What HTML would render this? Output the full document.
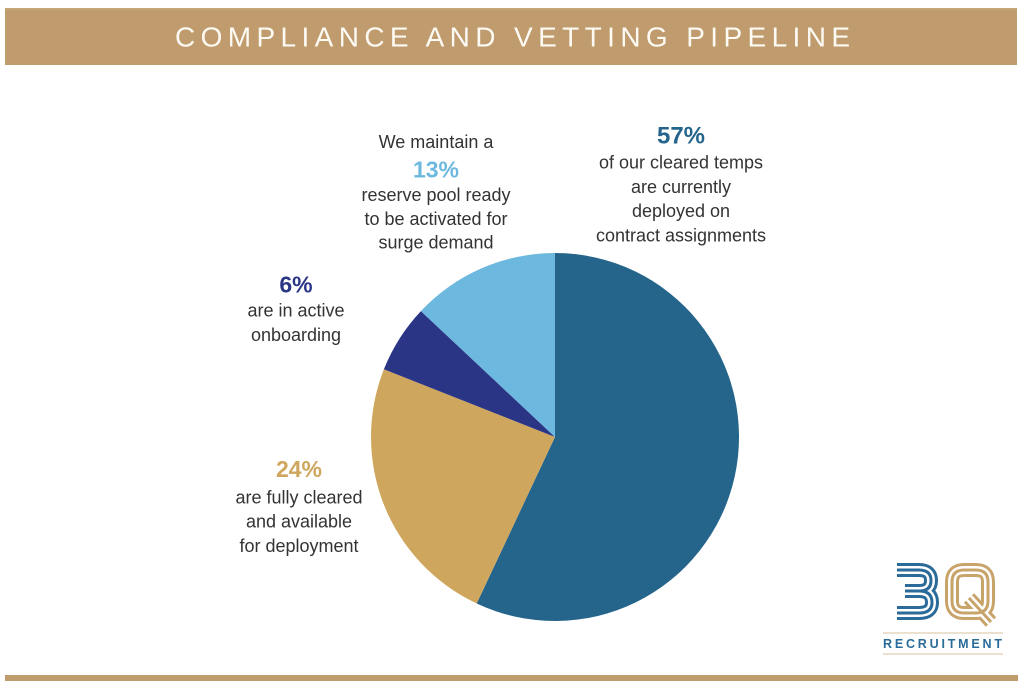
<!DOCTYPE html>
<html>
<head>
<meta charset="utf-8">
<style>
  html, body { margin:0; padding:0; background:#ffffff; }
  body { width:1024px; height:691px; overflow:hidden; }
  svg { display:block; }
  text { font-family: "Liberation Sans", "DejaVu Sans", sans-serif; }
</style>
</head>
<body>
<svg width="1024" height="691" viewBox="0 0 1024 691" xmlns="http://www.w3.org/2000/svg">
  <rect x="0" y="0" width="1024" height="691" fill="#ffffff"/>

  <!-- Header band -->
  <rect x="5" y="8" width="1012" height="57" fill="#bf9b6d"/>
  <rect x="5" y="8" width="1012" height="2" fill="#c6a578"/>
  <text x="175" y="46.5" font-size="28" fill="#fdfaf3" textLength="675" lengthAdjust="spacing">COMPLIANCE AND VETTING PIPELINE</text>

  <!-- Pie: center (555,437), r=184 -->
  <path d="M555 437 L555 253 A184 184 0 1 1 476.7 603.5 Z" fill="#25648b"/>
  <path d="M555 437 L476.7 603.5 A184 184 0 0 1 383.9 369.3 Z" fill="#cfa65d"/>
  <path d="M555 437 L383.9 369.3 A184 184 0 0 1 420.9 311.1 Z" fill="#2a3586"/>
  <path d="M555 437 L420.9 311.1 A184 184 0 0 1 555 253 Z" fill="#6db8de"/>

  <!-- Labels -->
  <g text-anchor="middle" fill="#333333" font-size="18">
    <text x="436" y="148">We maintain a</text>
    <text x="436" y="177.5" font-size="23" font-weight="bold" fill="#6db8de">13%</text>
    <text x="436" y="201">reserve pool ready</text>
    <text x="436" y="225">to be activated for</text>
    <text x="436" y="248.5">surge demand</text>

    <text x="681" y="143.5" font-size="24" font-weight="bold" fill="#25648b">57%</text>
    <text x="681" y="168.5">of our cleared temps</text>
    <text x="681" y="193">are currently</text>
    <text x="681" y="217">deployed on</text>
    <text x="681" y="241.5">contract assignments</text>

    <text x="296" y="292.5" font-size="23" font-weight="bold" fill="#2a3586">6%</text>
    <text x="296" y="316.5">are in active</text>
    <text x="296" y="341">onboarding</text>

    <text x="299" y="477" font-size="23" font-weight="bold" fill="#cfa65d">24%</text>
    <text x="299" y="503.5">are fully cleared</text>
    <text x="299" y="527.5">and available</text>
    <text x="299" y="552">for deployment</text>
  </g>

  <!-- Logo: 3 -->
  <g fill="none" stroke-linecap="butt" stroke-linejoin="round">
    <path d="M897 570 H919 Q931 570 931 580.5 Q931 591 919 591 H905 M919 591 Q932 591 932 602.5 Q932 613 919 613 H897" stroke="#2a6b9a" stroke-width="14"/>
    <path d="M897 570 H919 Q931 570 931 580.5 Q931 591 919 591 H905 M919 591 Q932 591 932 602.5 Q932 613 919 613 H897" stroke="#ffffff" stroke-width="8"/>
    <path d="M897 570 H919 Q931 570 931 580.5 Q931 591 919 591 H905 M919 591 Q932 591 932 602.5 Q932 613 919 613 H897" stroke="#2a6b9a" stroke-width="3"/>

    <!-- Q -->
    <path d="M964 570 H976 Q988 570 988 582 V601 Q988 613 976 613 H964 Q952 613 952 601 V582 Q952 570 964 570 Z M969 598 L991 622" stroke="#c9a46a" stroke-width="14"/>
    <path d="M964 570 H976 Q988 570 988 582 V601 Q988 613 976 613 H964 Q952 613 952 601 V582 Q952 570 964 570 Z M969 598 L991 622" stroke="#ffffff" stroke-width="8"/>
    <path d="M964 570 H976 Q988 570 988 582 V601 Q988 613 976 613 H964 Q952 613 952 601 V582 Q952 570 964 570 Z M969 598 L991 622" stroke="#c9a46a" stroke-width="3"/>
  </g>
  <rect x="883" y="632.5" width="120" height="1" fill="#d9c29c"/>
  <text x="883" y="648" font-size="12.5" font-weight="bold" fill="#2a6b9a" textLength="119" lengthAdjust="spacing">RECRUITMENT</text>
  <rect x="883" y="653.5" width="120" height="1" fill="#d9c29c"/>

  <!-- Bottom line -->
  <rect x="5" y="675" width="1013" height="6" fill="#c09c6c"/>
</svg>
</body>
</html>
